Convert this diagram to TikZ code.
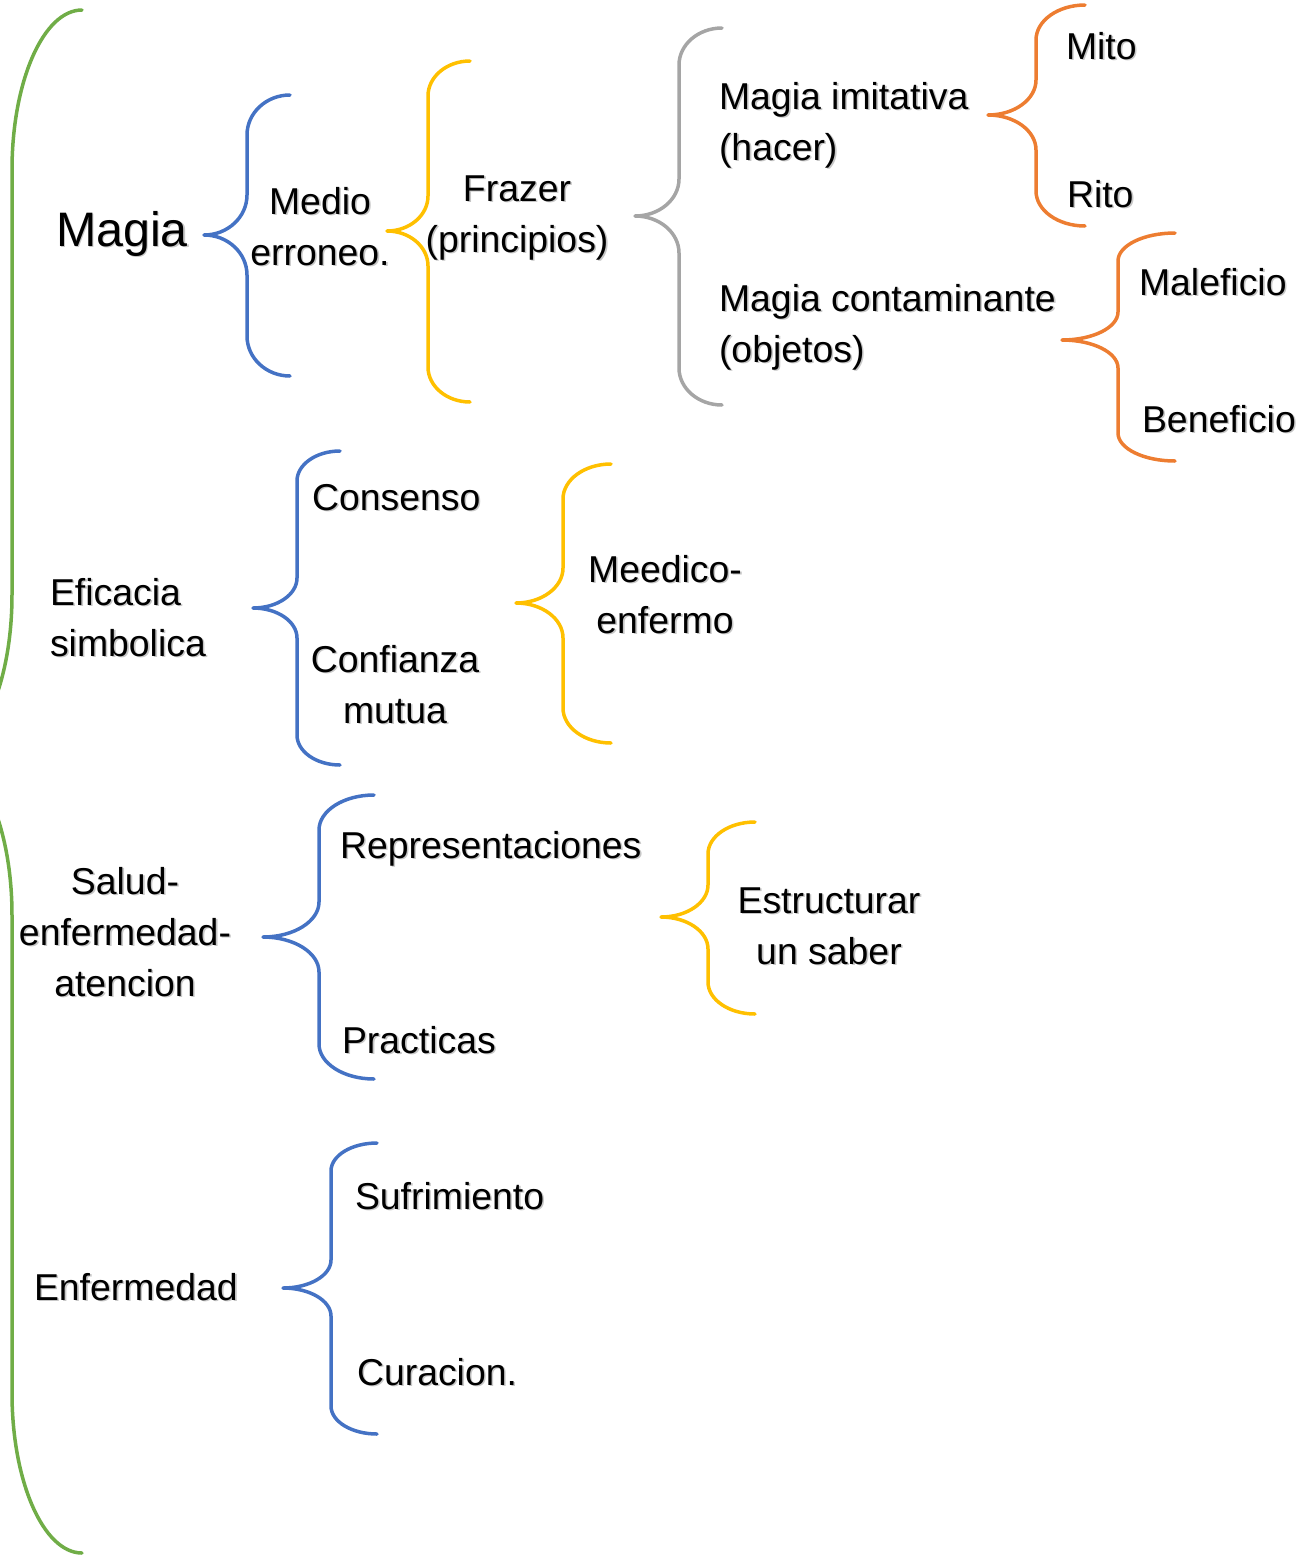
\documentclass[tikz,border=0pt]{standalone}
\usepackage{fontspec}
\setmainfont{Liberation Sans}
\usetikzlibrary{calc}
\definecolor{cblue}{HTML}{4472C4}
\definecolor{cyellow}{HTML}{FFC000}
\definecolor{cgray}{HTML}{A5A5A5}
\definecolor{corange}{HTML}{ED7D31}
\definecolor{cgreen}{HTML}{70AD47}
\tikzset{
  bracestyle/.style={line width=1.75pt, line cap=round, line join=round},
  lbl/.style={inner sep=0pt, outer sep=0pt, align=center, font=\fontsize{18.7}{25.5}\selectfont, text=black},
  big/.style={font=\fontsize{24.2}{28}\selectfont},
  shadowtxt/.style={text=black!22, xshift=0.8pt, yshift=-0.8pt},
}
% #1 colour, #2 x tip, #3 x vertical, #4 x ends, #5 y top, #6 y middle, #7 y bottom, #8 corner height
\newcommand\mybrace[8]{%
  \pgfmathsetmacro\rxa{(#4-#3)*0.552}%
  \pgfmathsetmacro\rxb{(#3-#2)*0.552}%
  \pgfmathsetmacro\rk{#8*0.552}%
  \draw[bracestyle,#1] (#4,#5) .. controls +(-\rxa,0) and +(0,-\rk) .. (#3,#5+#8)
    -- (#3,#6-#8) .. controls +(0,\rk) and +(\rxb,0) .. (#2,#6)
    .. controls +(\rxb,0) and +(0,-\rk) .. (#3,#6+#8)
    -- (#3,#7-#8) .. controls +(0,\rk) and +(-\rxa,0) .. (#4,#7);
}
% #1 options, #2 name, #3 anchor, #4 position (baseline of last line), #5 text
\newcommand\txt[5][]{%
  \node[lbl,shadowtxt,anchor=#3,#1] at (#4) {#5};
  \node[lbl,anchor=#3,#1] (#2) at (#4) {#5};
}
\begin{document}
\begin{tikzpicture}[x=0.5pt,y=-0.5pt]
\useasboundingbox (0,0) rectangle (1300,1559);
\clip (0,0) rectangle (1300,1559);

% braces
\mybrace{cgreen}{-58}{12}{82}{10}{755}{1553}{160}
\mybrace{cblue}{204}{247}{290}{95}{235}{376}{40}
\mybrace{cyellow}{387}{428}{470}{61}{231}{402}{35}
\mybrace{cgray}{635}{679}{722}{28}{216}{405}{37}
\mybrace{corange}{988}{1036}{1085}{5}{115}{226}{35}
\mybrace{corange}{1062}{1118}{1175}{233}{340}{461}{28}
\mybrace{cblue}{253}{297}{340}{451}{608}{765}{30}
\mybrace{cyellow}{516}{563}{611}{464}{603}{743}{35}
\mybrace{cblue}{263}{319}{374}{795}{937}{1079}{35}
\mybrace{cyellow}{661}{708}{755}{822}{917}{1014}{32}
\mybrace{cblue}{283}{331}{377}{1143}{1288}{1434}{28}

% texts
\txt[big]{magia}{base west}{56,246}{Magia}
\txt{medio}{base}{320,265}{Medio\\erroneo.}
\txt{frazer}{base}{517,252}{Frazer\\(principios)}
\txt[align=left]{imit}{base west}{719,160}{Magia imitativa\\(hacer)}
\txt{mito}{base west}{1066,59}{Mito}
\txt{rito}{base west}{1067,207}{Rito}
\txt[align=left]{contam}{base west}{719,362}{Magia contaminante\\(objetos)}
\txt{malef}{base west}{1139,295}{Maleficio}
\txt{benef}{base west}{1142,432}{Beneficio}
\txt[align=left]{eficacia}{base west}{50,656}{Eficacia\\simbolica}
\txt{consenso}{base west}{312,510}{Consenso}
\txt{confianza}{base}{395,723}{Confianza\\mutua}
\txt{medico}{base}{665,633}{Meedico-\\enfermo}
\txt{salud}{base}{125,996}{Salud-\\enfermedad-\\atencion}
\txt{repres}{base west}{340,858}{Representaciones}
\txt{pract}{base west}{342,1053}{Practicas}
\txt{estruct}{base}{829,964}{Estructurar\\un saber}
\txt{enferm}{base west}{34,1300}{Enfermedad}
\txt{sufr}{base west}{355,1209}{Sufrimiento}
\txt{curac}{base west}{357,1385}{Curacion.}
\end{tikzpicture}
\end{document}
